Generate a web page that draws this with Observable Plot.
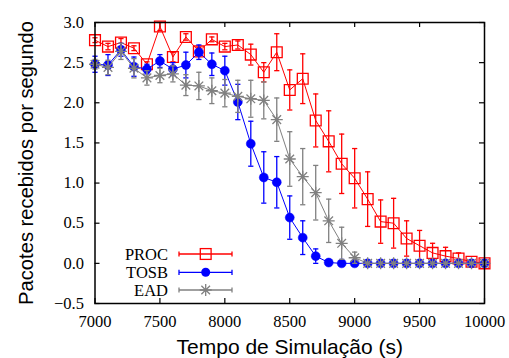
<!DOCTYPE html>
<html>
<head>
<meta charset="utf-8">
<script src="https://cdn.jsdelivr.net/npm/d3@7"></script>
<script src="https://cdn.jsdelivr.net/npm/@observablehq/plot@0.6"></script>
<style>
  html, body { margin: 0; padding: 0; background: #fff; }
</style>
</head>
<body>
<div id="chart"></div>
<script>
const times = [7000,7100,7200,7300,7400,7500,7600,7700,7800,7900,8000,8100,8200,8300,8400,8500,8600,8700,8800,8900,9000,9100,9200,9300,9400,9500,9600,9700,9800,9900,10000];

const procMean = [2.78,2.70,2.75,2.68,2.48,2.95,2.57,2.82,2.64,2.79,2.70,2.72,2.60,2.38,2.63,2.16,2.30,1.78,1.52,1.24,1.06,0.80,0.52,0.50,0.31,0.22,0.13,0.09,0.06,0.02,0.00];
const procErr  = [0.03,0.04,0.05,0.03,0.03,0.05,0.06,0.04,0.05,0.03,0.04,0.05,0.13,0.12,0.23,0.25,0.31,0.33,0.38,0.37,0.37,0.34,0.27,0.31,0.22,0.19,0.12,0.11,0.07,0.02,0.00];

const tosbMean = [2.48,2.47,2.66,2.45,2.42,2.52,2.42,2.47,2.63,2.48,2.40,2.01,1.49,1.07,1.01,0.57,0.32,0.09,0.01,0,0,0,0,0,0,0,0,0,0,0,0];
const tosbErr  = [0.10,0.13,0.08,0.12,0.06,0.08,0.08,0.16,0.09,0.14,0.18,0.22,0.28,0.32,0.32,0.27,0.21,0.09,0.01,0,0,0,0,0,0,0,0,0,0,0,0];

const eadMean = [2.48,2.44,2.64,2.43,2.31,2.34,2.36,2.22,2.21,2.15,2.12,2.08,2.05,2.03,1.79,1.30,1.08,0.88,0.53,0.25,0.07,0,0,0,0,0,0,0,0,0,0];
const eadErr  = [0.06,0.09,0.10,0.12,0.09,0.09,0.10,0.13,0.17,0.16,0.17,0.20,0.23,0.23,0.27,0.34,0.35,0.34,0.27,0.20,0.07,0,0,0,0,0,0,0,0,0,0];

const seriesNames = ["PROC", "TOSB", "EAD"];
const xTicks = [7000, 7500, 8000, 8500, 9000, 9500, 10000];
const yTicks = [-0.5, 0, 0.5, 1.0, 1.5, 2.0, 2.5, 3.0];
const xLabel = "Tempo de Simulação (s)";
const yLabel = "Pacotes recebidos por segundo";

const RED = "#ff0000", BLUE = "#0000ff", GRAY = "#808080";

function rows(mean, err) {
  return times.map((t, i) => ({x: t, y: mean[i], e: err[i]}));
}
const proc = rows(procMean, procErr);
const tosb = rows(tosbMean, tosbErr);
const ead  = rows(eadMean, eadErr);

const capSym = { draw(ctx) { ctx.moveTo(-2.6, 0); ctx.lineTo(2.6, 0); } };
const starSym = { draw(ctx, size) {
  const r = Math.sqrt(size / Math.PI), d = r * 0.72;
  ctx.moveTo(-r, 0); ctx.lineTo(r, 0);
  ctx.moveTo(0, -r); ctx.lineTo(0, r);
  ctx.moveTo(-d, -d); ctx.lineTo(d, d);
  ctx.moveTo(-d, d); ctx.lineTo(d, -d);
} };

function seriesMarks(data, color, symbol, markOpts) {
  return [
    Plot.line(data, {x: "x", y: "y", stroke: color, strokeWidth: 1}),
    Plot.ruleX(data, {x: "x", y1: d => d.y - d.e, y2: d => d.y + d.e, stroke: color, strokeWidth: 1.3}),
    Plot.dot(data, {x: "x", y: d => d.y - d.e, symbol: capSym, stroke: color, strokeWidth: 1.3}),
    Plot.dot(data, {x: "x", y: d => d.y + d.e, symbol: capSym, stroke: color, strokeWidth: 1.3}),
    Plot.dot(data, {x: "x", y: "y", symbol, ...markOpts})
  ];
}

const W = 509, H = 358;
const mL = 94.5, mR = 25, mT = 22, mB = 55;
const frameW = W - mL - mR, frameH = H - mT - mB;
const serif = "'Liberation Serif', 'Times New Roman', serif";
const sans = "'Liberation Sans', Arial, sans-serif";

const plot = Plot.plot({
  width: W, height: H,
  marginLeft: mL, marginRight: mR, marginTop: mT, marginBottom: mB,
  x: {domain: [7000, 10000], axis: null},
  y: {domain: [-0.5, 3.0], axis: null},
  style: {fontFamily: serif, background: "#fff"},
  marks: [
    // inward ticks on all four sides
    Plot.tickX(xTicks, {x: d => d, insetTop: frameH - 5, stroke: "black", strokeWidth: 1.2}),
    Plot.tickX(xTicks, {x: d => d, insetBottom: frameH - 5, stroke: "black", strokeWidth: 1.2}),
    Plot.tickY(yTicks, {y: d => d, insetRight: frameW - 5, stroke: "black", strokeWidth: 1.2}),
    Plot.tickY(yTicks, {y: d => d, insetLeft: frameW - 5, stroke: "black", strokeWidth: 1.2}),
    Plot.axisX({ticks: xTicks, tickSize: 0, tickPadding: 12, label: null, fontSize: 16.5, fontFamily: serif, fill: "black", tickFormat: d3.format("d")}),
    Plot.axisY({ticks: yTicks, tickSize: 0, tickPadding: 11, label: null, fontSize: 16.5, fontFamily: serif, fill: "black", tickFormat: d3.format(".1f")}),
    ...seriesMarks(proc, RED, "square", {stroke: RED, strokeWidth: 1.3, fill: "none", r: 6.1}),
    ...seriesMarks(tosb, BLUE, "circle", {fill: BLUE, stroke: BLUE, strokeWidth: 0.5, r: 4.5}),
    ...seriesMarks(ead, GRAY, starSym, {stroke: GRAY, strokeWidth: 1.3, r: 6}),
    Plot.frame({stroke: "black", strokeWidth: 1.5}),
    Plot.text([xLabel], {frameAnchor: "bottom", dy: 50, fontSize: 21, fontFamily: sans, fill: "black"}),
    Plot.text([yLabel], {frameAnchor: "left", textAnchor: "middle", rotate: -90, dx: -68, fontSize: 20.2, fontFamily: sans, fill: "black"})
  ]
});

// Legend (gnuplot-style key, bottom-left inside the frame)
const svg = d3.select(plot);
const legendItems = [
  {name: seriesNames[0], color: RED, sym: "square"},
  {name: seriesNames[1], color: BLUE, sym: "circle"},
  {name: seriesNames[2], color: GRAY, sym: "star"}
];
const lg = svg.append("g");
const textRight = 168, lineX1 = 179, lineX2 = 232, markX = 205.7;
const rowY = [254, 272.3, 290];
legendItems.forEach((it, i) => {
  const y = rowY[i];
  const g = lg.append("g");
  g.append("text").attr("x", textRight).attr("y", y).attr("dy", "0.35em")
    .attr("text-anchor", "end").attr("font-family", serif).attr("font-size", 16.5)
    .attr("fill", "black").text(it.name);
  g.append("line").attr("x1", lineX1).attr("x2", lineX2).attr("y1", y).attr("y2", y)
    .attr("stroke", it.color).attr("stroke-width", 1.3);
  [lineX1, lineX2].forEach(x => g.append("line").attr("x1", x).attr("x2", x)
    .attr("y1", y - 2.6).attr("y2", y + 2.6).attr("stroke", it.color).attr("stroke-width", 1.3));
  if (it.sym === "square") {
    g.append("rect").attr("x", markX - 5.4).attr("y", y - 5.4).attr("width", 10.8).attr("height", 10.8)
      .attr("fill", "none").attr("stroke", it.color).attr("stroke-width", 1.3);
  } else if (it.sym === "circle") {
    g.append("circle").attr("cx", markX).attr("cy", y).attr("r", 4.5).attr("fill", it.color);
  } else {
    const p = d3.path(); starSym.draw(p, Math.PI * 36);
    g.append("path").attr("d", p.toString()).attr("transform", `translate(${markX},${y})`)
      .attr("stroke", it.color).attr("stroke-width", 1.3).attr("fill", "none");
  }
});

document.getElementById("chart").appendChild(plot);
</script>
</body>
</html>
